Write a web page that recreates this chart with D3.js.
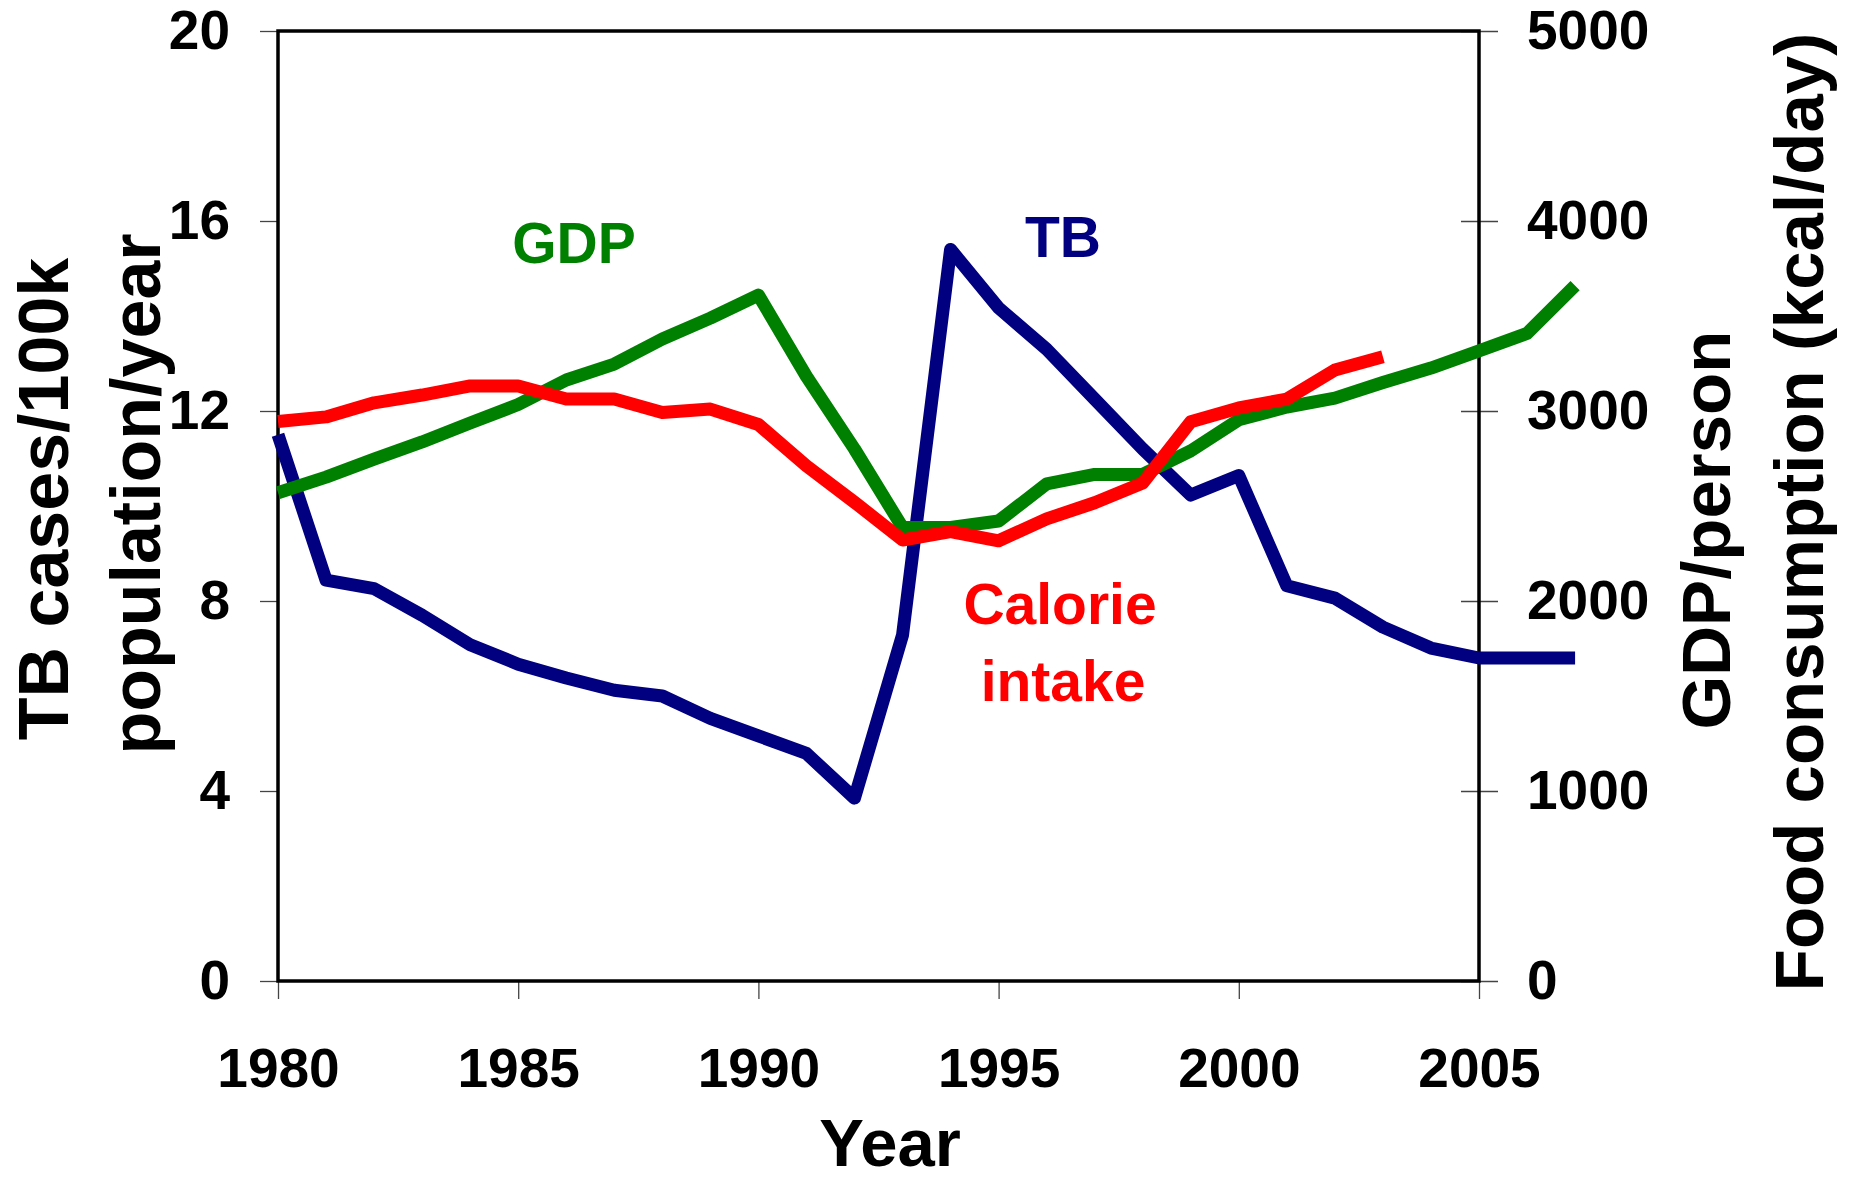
<!DOCTYPE html>
<html>
<head>
<meta charset="utf-8">
<script src="https://cdn.jsdelivr.net/npm/d3@7"></script>
<style>
  html, body { margin: 0; padding: 0; background: #fff; }
  svg { display: block; font-family: "Liberation Sans", Arial, Helvetica, sans-serif; font-weight: bold; }
</style>
</head>
<body>
<svg id="chart" width="1856" height="1181"></svg>
<script>
// ---- data ----
const years = [1980,1981,1982,1983,1984,1985,1986,1987,1988,1989,1990,1991,1992,1993,
               1994,1995,1996,1997,1998,1999,2000,2001,2002,2003,2004,2005,2006,2007];
const tbCases = [11.5,8.44,8.26,7.7,7.08,6.67,6.38,6.12,6.0,5.53,5.16,4.79,3.85,7.28,
                 15.4,14.17,13.3,12.25,11.2,10.23,10.64,8.32,8.06,7.45,7.01,6.8,6.8,6.8];
const gdpPerPerson = [2570,2652,2747,2837,2937,3034,3163,3247,3379,3489,3610,3182,2800,2387,
                      2387,2421,2616,2666,2666,2790,2954,3021,3068,3150,3226,3316,3408,3660];
const calorieYears = years.slice(0, 24); // 1980-2003
const calorieIntake = [2945,2969,3043,3084,3132,3132,3063,3063,2992,3010,2929,2711,2520,2321,
                       2365,2317,2432,2517,2621,2943,3016,3063,3216,3286];
const xTicks = [1980,1985,1990,1995,2000,2005];
const leftTicks = [0,4,8,12,16,20];
const rightTicks = [0,1000,2000,3000,4000,5000];

// ---- layout ----
const L = 278, R = 1479, T = 31, B = 981;
const svg = d3.select("#chart");

const x = d3.scaleLinear().domain([1980, 2005]).range([L, R]);
const yL = d3.scaleLinear().domain([0, 20]).range([B, T]);
const yR = d3.scaleLinear().domain([0, 5000]).range([B, T]);

const tickFont = 55;

// left axis
const gl = svg.append("g").attr("transform", `translate(${L},0)`)
  .call(d3.axisLeft(yL).tickValues(leftTicks).tickSize(18).tickPadding(30).tickFormat(d3.format("d")));
// right axis
const gr = svg.append("g").attr("transform", `translate(${R},0)`)
  .call(d3.axisRight(yR).tickValues(rightTicks).tickSize(19).tickPadding(29).tickFormat(d3.format("d")));
gr.selectAll(".tick line").attr("x1", -18);
// bottom axis
const gb = svg.append("g").attr("transform", `translate(0,${B})`)
  .call(d3.axisBottom(x).tickValues(xTicks).tickSize(18).tickPadding(49).tickFormat(d3.format("d")));

[gl, gr, gb].forEach(g => {
  g.select(".domain").remove();
  g.selectAll(".tick line").attr("stroke", "#444").attr("stroke-width", 1.3);
  g.selectAll(".tick text").attr("fill", "#000").attr("font-size", tickFont)
    .attr("font-weight", "bold").attr("font-family", "'Liberation Sans', Arial, sans-serif");
});

// frame
svg.append("rect").attr("x", L).attr("y", T).attr("width", R - L).attr("height", B - T)
  .attr("fill", "none").attr("stroke", "#000").attr("stroke-width", 3.5);

// lines
const tbLine = d3.line().x((d, i) => x(years[i])).y(d => yL(d));
const gdpLine = d3.line().x((d, i) => x(years[i])).y(d => yR(d));
const calLine = d3.line().x((d, i) => x(calorieYears[i])).y(d => yR(d));

const lw = 13;
svg.append("path").datum(tbCases).attr("d", tbLine).attr("fill", "none")
  .attr("stroke", "#000080").attr("stroke-width", lw).attr("stroke-linejoin", "round").attr("stroke-linecap", "butt");
svg.append("path").datum(gdpPerPerson).attr("d", gdpLine).attr("fill", "none")
  .attr("stroke", "#008000").attr("stroke-width", lw).attr("stroke-linejoin", "round").attr("stroke-linecap", "butt");
svg.append("path").datum(calorieIntake).attr("d", calLine).attr("fill", "none")
  .attr("stroke", "#FF0000").attr("stroke-width", lw).attr("stroke-linejoin", "round").attr("stroke-linecap", "butt");

// series labels
const lab = (t, cx, by, col) => svg.append("text").attr("x", cx).attr("y", by)
  .attr("text-anchor", "middle").attr("font-size", 57).attr("fill", col).text(t);
lab("GDP", 574, 263, "#008000");
lab("TB", 1063, 257, "#000080");
lab("Calorie", 1060, 624, "#FF0000");
lab("intake", 1063, 701, "#FF0000");

// axis titles
svg.append("text").attr("x", 890).attr("y", 1166).attr("text-anchor", "middle")
  .attr("font-size", 67).attr("fill", "#000").text("Year");

const vtitle = (t, bx, cy, fs) => svg.append("text")
  .attr("transform", `translate(${bx},${cy}) rotate(-90)`)
  .attr("text-anchor", "middle").attr("font-size", fs).attr("fill", "#000").text(t);
vtitle("TB cases/100k", 68, 499, 70);
vtitle("population/year", 160, 494, 70);
vtitle("GDP/person", 1730, 530, 69);
vtitle("Food consumption (kcal/day)", 1823, 512, 69);
</script>
</body>
</html>
